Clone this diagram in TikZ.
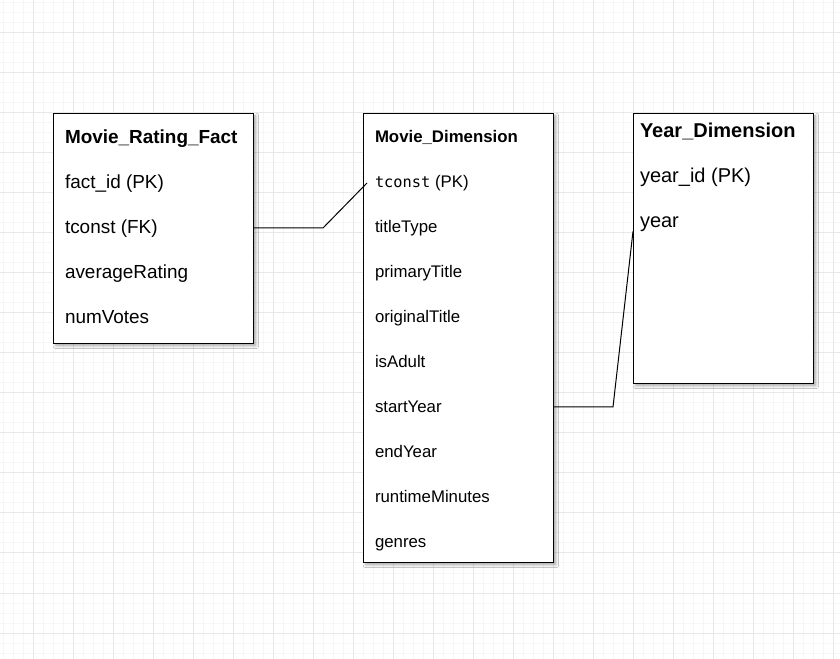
\documentclass[tikz,border=0pt]{standalone}
\usepackage{fontspec}
\setmainfont{Liberation Sans}
\newfontfamily\codefont{DejaVu Sans Mono}
\usetikzlibrary{positioning, shadows.blur}

\definecolor{gridminor}{HTML}{F6F6F6}
\definecolor{gridmajor}{HTML}{E8E8E8}

\begin{document}
\begin{tikzpicture}[
    x=0.75pt, y=-0.75pt,
    table/.style={rectangle, draw, line width=0.75pt, fill=white, inner sep=0pt, anchor=north west,
        blur shadow={shadow xshift=1.8pt, shadow yshift=-1.8pt, shadow blur steps=5, shadow opacity=35}},
    field/.style={inner sep=0pt, outer sep=0pt, text height=10pt, text depth=3pt, font=\fontsize{14.2}{17}\selectfont},
    smallfield/.style={field, font=\fontsize{12.6}{15}\selectfont},
    bigfield/.style={field, font=\fontsize{15}{18}\selectfont},
    title/.style={field, font=\fontsize{14.2}{17}\selectfont\bfseries},
    smalltitle/.style={field, font=\fontsize{12.6}{15}\selectfont\bfseries},
    bigtitle/.style={field, font=\fontsize{15}{18}\selectfont\bfseries},
    link/.style={draw, line width=0.75pt},
    node distance=20.75pt
]

\useasboundingbox (0,0) rectangle (840,659);
\fill[white] (0,0) rectangle (840,659);

% background grid
\foreach \x in {3,13,...,833} \draw[gridminor, line width=0.75pt] (\x,0) -- (\x,659);
\foreach \y in {3,13,...,653} \draw[gridminor, line width=0.75pt] (0,\y) -- (840,\y);
\foreach \x in {33,73,...,833} \draw[gridmajor, line width=0.75pt] (\x,0) -- (\x,659);
\foreach \y in {33,73,...,653} \draw[gridmajor, line width=0.75pt] (0,\y) -- (840,\y);

% Fact table
\node[table, minimum width=150pt, minimum height=172.5pt] (fact) at (53,113) {};
\node[title, below right=13pt and 9pt of fact.north west] (facttitle) {Movie\_Rating\_Fact};
\node[field, below=of facttitle.south west, anchor=north west] (factid) {fact\_id (PK)};
\node[field, below=of factid.south west, anchor=north west] (factfk) {tconst (FK)};
\node[field, below=of factfk.south west, anchor=north west] (factrating) {averageRating};
\node[field, below=of factrating.south west, anchor=north west] (factvotes) {numVotes};

% Movie table
\node[table, minimum width=142.5pt, minimum height=336.75pt] (movie) at (363,113) {};
\node[smalltitle, below right=12.25pt and 9pt of movie.north west] (movietitle) {Movie\_Dimension};
\node[smallfield, below=of movietitle.south west, anchor=north west] (moviepk) {{\codefont\fontsize{11.5}{14}\selectfont tconst} (PK)};
\node[smallfield, below=of moviepk.south west, anchor=north west] (movietype) {titleType};
\node[smallfield, below=of movietype.south west, anchor=north west] (movieprimary) {primaryTitle};
\node[smallfield, below=of movieprimary.south west, anchor=north west] (movieoriginal) {originalTitle};
\node[smallfield, below=of movieoriginal.south west, anchor=north west] (movieadult) {isAdult};
\node[smallfield, below=of movieadult.south west, anchor=north west] (moviestart) {startYear};
\node[smallfield, below=of moviestart.south west, anchor=north west] (movieend) {endYear};
\node[smallfield, below=of movieend.south west, anchor=north west] (movieruntime) {runtimeMinutes};
\node[smallfield, below=of movieruntime.south west, anchor=north west] (moviegenres) {genres};

% Year table
\node[table, minimum width=135pt, minimum height=202.5pt] (year) at (633,113) {};
\node[bigtitle, below right=8.75pt and 5.25pt of year.north west] (yeartitle) {Year\_Dimension};
\node[bigfield, below=of yeartitle.south west, anchor=north west] (yearid) {year\_id (PK)};
\node[bigfield, below=of yearid.south west, anchor=north west] (yearvalue) {year};

% links
\coordinate (bendfact) at (323,228);
\coordinate (bendyear) at (613,407);
\draw[link] (fact.east |- bendfact) -- (bendfact) -- ([xshift=3pt]movie.west |- moviepk);
\draw[link] (movie.east |- bendyear) -- (bendyear) -- ([yshift=-6pt]year.west |- yearvalue);

\end{tikzpicture}
\end{document}
